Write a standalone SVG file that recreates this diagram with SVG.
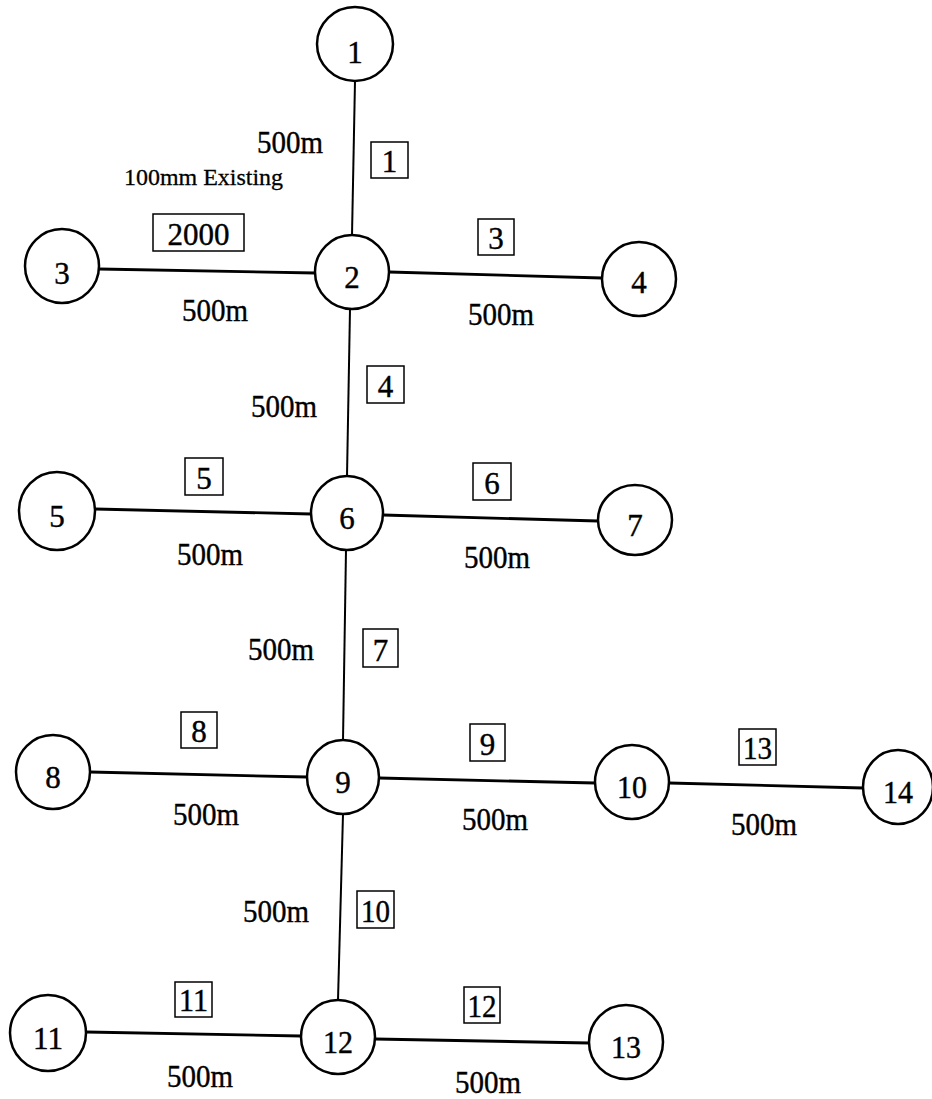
<svg xmlns="http://www.w3.org/2000/svg" width="932" height="1099" viewBox="0 0 932 1099">
<style>
.n{fill:#fff;stroke:#000;stroke-width:2.5}
.t{font-family:"Liberation Serif","Times New Roman",serif;font-size:31px;fill:#000;stroke:#000;stroke-width:0.4;text-anchor:middle}
.l{font-family:"Liberation Serif","Times New Roman",serif;font-size:31px;fill:#000;stroke:#000;stroke-width:0.4;text-anchor:middle}
.b{fill:none;stroke:#000;stroke-width:1.5}
.e{stroke:#000;stroke-width:2.8;fill:none}
.v{stroke:#000;stroke-width:2;fill:none}
</style>
<rect width="932" height="1099" fill="#fff"/>
<g id="connectors">
<line class="v" x1="355" y1="81" x2="352" y2="235"/>
<line class="e" x1="99" y1="269" x2="315" y2="273"/>
<line class="e" x1="389" y1="272" x2="602" y2="278"/>
<line class="v" x1="350" y1="309" x2="347" y2="476"/>
<line class="e" x1="95" y1="509" x2="311" y2="514"/>
<line class="e" x1="383" y1="515" x2="598" y2="521"/>
<line class="v" x1="346" y1="550" x2="343" y2="740"/>
<line class="e" x1="90" y1="772" x2="307" y2="777"/>
<line class="e" x1="379" y1="778" x2="595" y2="783"/>
<line class="e" x1="669" y1="783" x2="863" y2="788"/>
<line class="v" x1="343" y1="814" x2="338" y2="1000"/>
<line class="e" x1="86" y1="1032" x2="301" y2="1036"/>
<line class="e" x1="375" y1="1039" x2="589" y2="1043"/>
</g>
<g id="labels">
<text class="l" x="290" y="153" textLength="66" lengthAdjust="spacingAndGlyphs">500m</text>
<text x="124" y="185" textLength="159" lengthAdjust="spacingAndGlyphs" font-family="Liberation Serif, Times New Roman, serif" font-size="24" fill="#000" stroke="#000" stroke-width="0.3">100mm Existing</text>
<text class="l" x="215" y="321" textLength="66" lengthAdjust="spacingAndGlyphs">500m</text>
<text class="l" x="501" y="325" textLength="66" lengthAdjust="spacingAndGlyphs">500m</text>
<text class="l" x="284" y="417" textLength="66" lengthAdjust="spacingAndGlyphs">500m</text>
<text class="l" x="210" y="565" textLength="66" lengthAdjust="spacingAndGlyphs">500m</text>
<text class="l" x="497" y="568" textLength="66" lengthAdjust="spacingAndGlyphs">500m</text>
<text class="l" x="281" y="660" textLength="66" lengthAdjust="spacingAndGlyphs">500m</text>
<text class="l" x="206" y="825" textLength="66" lengthAdjust="spacingAndGlyphs">500m</text>
<text class="l" x="495" y="830" textLength="66" lengthAdjust="spacingAndGlyphs">500m</text>
<text class="l" x="764" y="835" textLength="66" lengthAdjust="spacingAndGlyphs">500m</text>
<text class="l" x="276" y="922" textLength="66" lengthAdjust="spacingAndGlyphs">500m</text>
<text class="l" x="200" y="1087" textLength="66" lengthAdjust="spacingAndGlyphs">500m</text>
<text class="l" x="488" y="1093" textLength="66" lengthAdjust="spacingAndGlyphs">500m</text>
</g>
<g id="pipe-ids">
<g id="p1"><rect class="b" x="371" y="142" width="37" height="36"/><text class="t" x="389.5" y="172">1</text></g>
<g id="p2000"><rect class="b" x="153" y="214" width="91" height="37"/><text class="t" x="198.5" y="245">2000</text></g>
<g id="p3"><rect class="b" x="478" y="219" width="36" height="36"/><text class="t" x="496" y="249">3</text></g>
<g id="p4"><rect class="b" x="367" y="366" width="37" height="37"/><text class="t" x="385.5" y="397">4</text></g>
<g id="p5"><rect class="b" x="185" y="458" width="38" height="37"/><text class="t" x="204" y="489">5</text></g>
<g id="p6"><rect class="b" x="473" y="463" width="38" height="37"/><text class="t" x="492" y="494">6</text></g>
<g id="p7"><rect class="b" x="363" y="629" width="35" height="38"/><text class="t" x="380.5" y="661">7</text></g>
<g id="p8"><rect class="b" x="181" y="712" width="36" height="36"/><text class="t" x="199" y="742">8</text></g>
<g id="p9"><rect class="b" x="470" y="724" width="35" height="37"/><text class="t" x="487.5" y="755">9</text></g>
<g id="p13"><rect class="b" x="739" y="729" width="37" height="36"/><text class="t" x="757.5" y="759" textLength="29" lengthAdjust="spacingAndGlyphs">13</text></g>
<g id="p10"><rect class="b" x="357" y="891" width="37" height="37"/><text class="t" x="375.5" y="922" textLength="29" lengthAdjust="spacingAndGlyphs">10</text></g>
<g id="p11"><rect class="b" x="175" y="982" width="37" height="35"/><text class="t" x="193.5" y="1011" textLength="29" lengthAdjust="spacingAndGlyphs">11</text></g>
<g id="p12"><rect class="b" x="464" y="987" width="36" height="36"/><text class="t" x="482" y="1017" textLength="29" lengthAdjust="spacingAndGlyphs">12</text></g>
</g>
<g id="node1"><ellipse class="n" cx="355" cy="44" rx="38" ry="37"/><text class="t" x="355" y="63">1</text></g>
<g id="node2"><ellipse class="n" cx="352" cy="272" rx="37" ry="37"/><text class="t" x="352" y="288">2</text></g>
<g id="node3"><ellipse class="n" cx="62" cy="266" rx="37" ry="37"/><text class="t" x="62" y="284">3</text></g>
<g id="node4"><ellipse class="n" cx="639" cy="279" rx="37" ry="37"/><text class="t" x="639" y="293">4</text></g>
<g id="node5"><ellipse class="n" cx="57" cy="511" rx="38" ry="39"/><text class="t" x="57" y="527">5</text></g>
<g id="node6"><ellipse class="n" cx="347" cy="513" rx="36" ry="37"/><text class="t" x="347" y="529">6</text></g>
<g id="node7"><ellipse class="n" cx="635" cy="520" rx="37" ry="35"/><text class="t" x="635" y="536">7</text></g>
<g id="node8"><ellipse class="n" cx="53" cy="772" rx="37" ry="37"/><text class="t" x="53" y="788">8</text></g>
<g id="node9"><ellipse class="n" cx="343" cy="777" rx="36" ry="37"/><text class="t" x="343" y="793">9</text></g>
<g id="node10"><ellipse class="n" cx="632" cy="782" rx="37" ry="37"/><text class="t" x="632" y="798" textLength="30" lengthAdjust="spacingAndGlyphs">10</text></g>
<g id="node14"><ellipse class="n" cx="898" cy="787" rx="35" ry="37"/><text class="t" x="898" y="803" textLength="30" lengthAdjust="spacingAndGlyphs">14</text></g>
<g id="node11"><ellipse class="n" cx="48" cy="1033" rx="38" ry="38"/><text class="t" x="48" y="1049" textLength="30" lengthAdjust="spacingAndGlyphs">11</text></g>
<g id="node12"><ellipse class="n" cx="338" cy="1037" rx="37" ry="37"/><text class="t" x="338" y="1053" textLength="30" lengthAdjust="spacingAndGlyphs">12</text></g>
<g id="node13"><ellipse class="n" cx="626" cy="1042" rx="37" ry="37"/><text class="t" x="626" y="1058" textLength="30" lengthAdjust="spacingAndGlyphs">13</text></g>
</svg>
